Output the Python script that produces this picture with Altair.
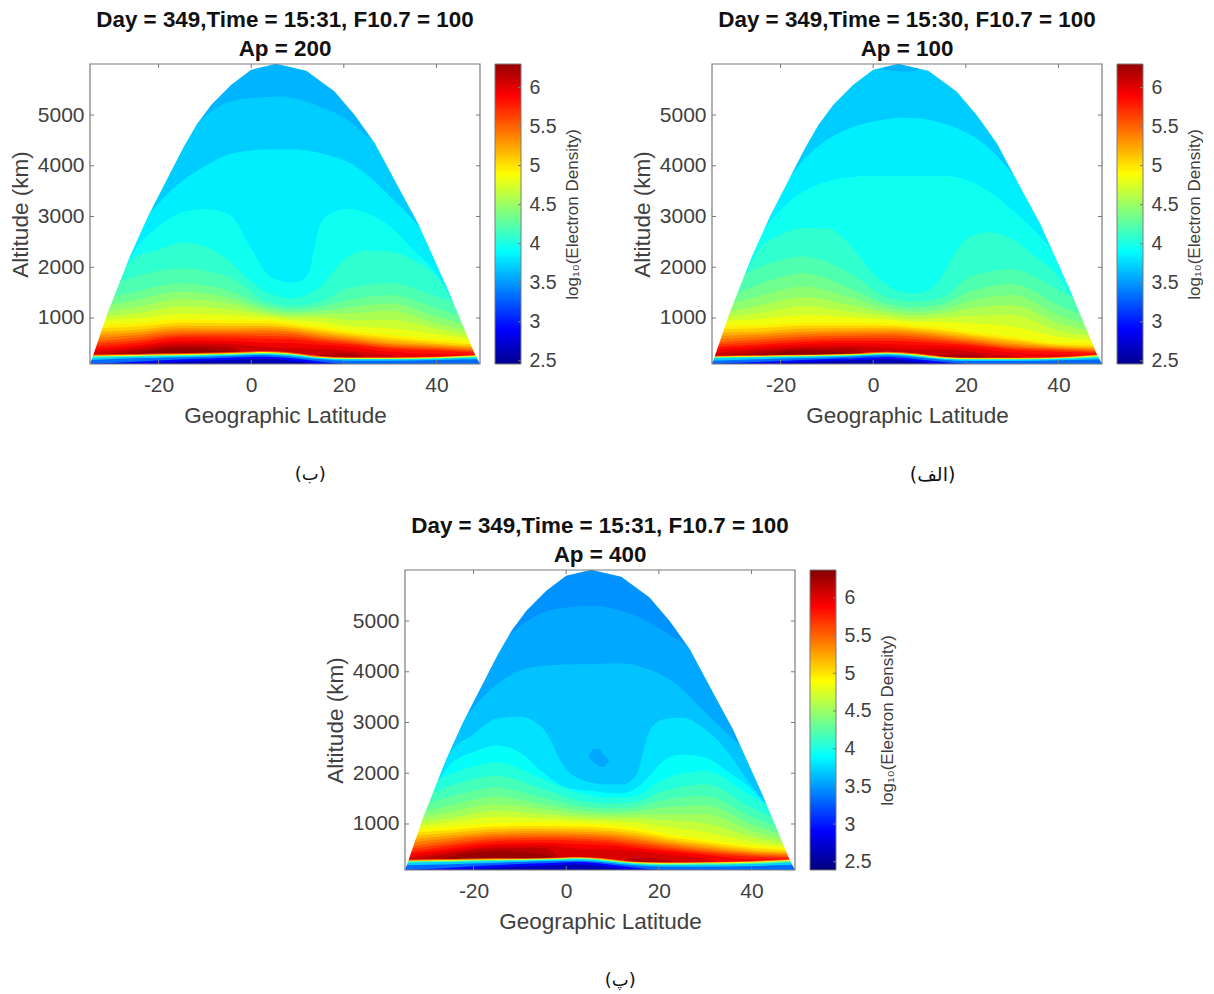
import altair as alt
import numpy as np
import pandas as pd

alt.data_transformers.disable_max_rows()

FONT = "Liberation Sans"
TXT = "#404040"
EDGE = "#7a7a7a"
W, H = 390, 300
ALT_MIN, ALT_MAX, LAT_MIN, LAT_MAX = 93, 6006, -34.8, 49.4
XTICKS = [-20, 0, 20, 40]
YTICKS = [1000, 2000, 3000, 4000, 5000]
CB_TICKS = [2.5, 3, 3.5, 4, 4.5, 5, 5.5, 6]
JET = ["#00007f", "#0000ff", "#007fff", "#00ffff", "#7fff7f", "#ffff00", "#ff7f00", "#ff0000", "#7f0000"]

ENV_LAT = [-34.8, -34.1, -31, -26.2, -22.3, -14.7, -11.8, -8.6, -4.3, 0, 5.4, 11.9, 18, 22.3, 26.7, 31.7, 36, 42.5, 48.2, 49.4]
ENV_ALT = [93, 270, 1100, 2210, 3000, 4350, 4808, 5202, 5596, 5892, 6010, 5872, 5465, 5004, 4446, 3590, 2868, 1553, 304, 93]

LAT_FINE = [-34.8, -30, -25, -20, -15, -10, -5, 0, 3, 6, 9, 12, 15, 18, 21, 25, 30, 35, 40, 45, 49.4]
LAT_LOW = [-34.8, -25, -15, -5, 3, 9, 15, 21, 30, 40, 49.4]

# Panel (b): Ap = 200
A_BASE = 3.59
A_FINE = [
    (3.69, [1000, 1900, 3000, 3900, 4450, 4960, 5255, 5330, 5355, 5366, 5330, 5260, 5156, 5050, 4886, 4577, 4300, 3300, 2400, 1400, 400]),
    (3.82, [800, 1900, 2700, 3262, 3690, 3990, 4216, 4301, 4320, 4327, 4327, 4300, 4248, 4170, 4070, 3821, 3394, 2933, 2400, 1400, 400]),
    (3.94, [700, 1500, 2350, 2802, 3078, 3150, 3052, 2375, 1914, 1737, 1697, 1816, 2868, 3098, 3150, 3065, 2802, 2342, 1881, 1100, 400]),
    (4.07, [500, 1500, 2210, 2342, 2486, 2407, 2144, 1717, 1520, 1421, 1388, 1454, 1618, 1947, 2210, 2329, 2309, 2144, 1816, 1092, 300]),
]
A_LOW = [
    (4.18, [1487, 1816, 1980, 1816, 1342, 1237, 1323, 1586, 1684, 1421, 1092]),
    (4.30, [1290, 1520, 1684, 1553, 1257, 1171, 1224, 1356, 1454, 1191, 895]),
    (4.43, [1191, 1356, 1520, 1408, 1191, 1112, 1145, 1211, 1290, 1027, 797]),
    (4.55, [1092, 1211, 1369, 1290, 1125, 1060, 1079, 1092, 1145, 895, 698]),
    (4.68, [1014, 1092, 1224, 1171, 1073, 1014, 1014, 961, 961, 790, 619]),
    (4.80, [948, 994, 1079, 1060, 1014, 961, 928, 843, 797, 685, 566]),
    (4.93, [862, 895, 974, 954, 948, 895, 829, 751, 665, 580, 514]),
    (5.05, [797, 829, 908, 895, 895, 849, 777, 698, 612, 527, 468]),
    (5.18, [731, 764, 849, 843, 843, 803, 731, 658, 566, 488, 435]),
    (5.30, [665, 711, 797, 790, 797, 764, 685, 619, 514, 461, 409]),
    (5.43, [599, 658, 751, 744, 751, 724, 645, 580, 481, 435, 382]),
    (5.55, [534, 606, 698, 698, 698, 678, 606, 547, 448, 409, 356]),
    (5.68, [488, 553, 658, 658, 645, 632, 566, 514, 422, 382, 336]),
    (5.80, [435, 507, 619, 612, 593, 580, 520, 481, 395, 356, 317]),
    (5.93, [382, 455, 553, 547, 514, 501, 468, 435, 336, 290, 277]),
    (6.05, [317, 409, 501, 488, 435, 402, 395, 356, 271, 93, 93]),
    (6.18, [251, 363, 455, 435, 93, 93, 271, 317, 93, 93, 93]),
    (6.28, [93, 303, 409, 343, 93, 93, 93, 93, 93, 93, 93]),
]
A_BOTTOM = [
    (5.55, [277, 290, 303, 323, 349, 317, 251, 225, 225, 238, 277]),
    (4.90, [257, 271, 284, 303, 330, 297, 231, 211, 211, 225, 264]),
    (4.20, [244, 257, 271, 290, 310, 284, 218, 198, 198, 211, 244]),
    (3.70, [218, 238, 251, 271, 290, 264, 205, 185, 185, 198, 225]),
    (3.30, [172, 205, 225, 251, 271, 238, 185, 159, 159, 172, 185]),
    (2.90, [93, 139, 185, 218, 238, 205, 139, 93, 93, 93, 93]),
    (2.60, [93, 93, 139, 172, 198, 152, 93, 93, 93, 93, 93]),
]

# Panel (alef): Ap = 100
B_BASE = 3.59
B_FINE = [
    (3.69, [1000, 2000, 3000, 4000, 4700, 5400, 5900, 6100, 5873, 5860, 5860, 6100, 5800, 5500, 5400, 4800, 4000, 3200, 2300, 1200, 300]),
    (3.82, [829, 1816, 2802, 3492, 4117, 4512, 4742, 4873, 4919, 4945, 4939, 4906, 4840, 4742, 4610, 4347, 3854, 3328, 2539, 1618, 501]),
    (3.94, [566, 1618, 2539, 3131, 3492, 3690, 3775, 3801, 3801, 3801, 3801, 3801, 3801, 3775, 3690, 3492, 3131, 2703, 2144, 1158, 303]),
    (4.07, [501, 1356, 2309, 2638, 2769, 2769, 2440, 1881, 1651, 1520, 1487, 1553, 1849, 2342, 2605, 2690, 2552, 2210, 1816, 1027, 172]),
]
B_LOW = [
    (4.19, [1487, 1980, 2210, 1881, 1408, 1323, 1408, 1816, 1960, 1553, 1092]),
    (4.32, [1257, 1651, 1881, 1586, 1277, 1211, 1277, 1520, 1671, 1257, 895]),
    (4.44, [1158, 1421, 1618, 1408, 1191, 1125, 1178, 1342, 1454, 1060, 797]),
    (4.57, [1060, 1237, 1408, 1257, 1112, 1053, 1092, 1191, 1257, 895, 698]),
    (4.69, [994, 1092, 1237, 1125, 1040, 987, 1014, 1040, 1060, 751, 619]),
    (4.82, [928, 974, 1060, 1014, 974, 928, 928, 895, 829, 632, 566]),
    (4.94, [843, 862, 908, 908, 895, 856, 810, 731, 632, 514, 501]),
    (5.07, [777, 797, 849, 849, 843, 803, 757, 678, 580, 474, 455]),
    (5.19, [711, 731, 790, 797, 797, 764, 711, 639, 540, 448, 422]),
    (5.32, [645, 678, 731, 744, 751, 724, 665, 599, 494, 422, 395]),
    (5.44, [580, 626, 678, 698, 704, 678, 626, 560, 461, 402, 369]),
    (5.57, [514, 573, 632, 652, 658, 632, 586, 527, 428, 382, 343]),
    (5.69, [468, 520, 580, 606, 606, 586, 547, 494, 402, 363, 323]),
    (5.82, [422, 474, 534, 553, 553, 534, 501, 461, 376, 336, 303]),
    (5.94, [369, 428, 481, 501, 488, 468, 448, 415, 317, 277, 264]),
    (6.07, [303, 382, 435, 448, 415, 382, 382, 336, 251, 93, 93]),
    (6.19, [238, 330, 395, 395, 93, 93, 271, 290, 93, 93, 93]),
    (6.28, [93, 271, 356, 317, 93, 93, 93, 93, 93, 93, 93]),
]
B_BOTTOM = [
    (5.50, [251, 264, 277, 297, 336, 303, 238, 218, 218, 231, 284]),
    (4.90, [238, 251, 264, 284, 317, 284, 225, 205, 205, 218, 271]),
    (4.20, [225, 238, 251, 271, 303, 271, 211, 192, 192, 205, 251]),
    (3.70, [205, 225, 238, 257, 284, 251, 198, 178, 178, 192, 225]),
    (3.30, [159, 185, 211, 238, 264, 231, 178, 152, 152, 165, 185]),
    (2.90, [93, 132, 172, 205, 231, 192, 132, 93, 93, 93, 93]),
    (2.60, [93, 93, 132, 165, 192, 146, 93, 93, 93, 93, 93]),
]

# Panel (pe): Ap = 400
C_BASE = 3.46
C_FINE = [
    (3.55, [1000, 1900, 3000, 3900, 4450, 4900, 5169, 5268, 5287, 5300, 5268, 5202, 5103, 4972, 4807, 4577, 4300, 3300, 2400, 1400, 400]),
    (3.65, [800, 1900, 2700, 3295, 3755, 4018, 4117, 4143, 4150, 4150, 4163, 4163, 4130, 4038, 3920, 3657, 3196, 2769, 2300, 1400, 400]),
    (3.77, [700, 1500, 2420, 2769, 3078, 3118, 2881, 2079, 1881, 1803, 1776, 1776, 1947, 2835, 3065, 3098, 2868, 2407, 1750, 1158, 300]),
    (3.90, [829, 1487, 2177, 2421, 2552, 2407, 2013, 1717, 1671, 1645, 1618, 1605, 1697, 1947, 2243, 2368, 2309, 2026, 1684, 1100, 300]),
]
C_BLOB_LEVEL = 3.55
C_BLOB_LAT = [4.8, 5.9, 7.0, 8.0, 9.3]
C_BLOB_TOP = [2342, 2473, 2486, 2375, 2243]
C_BLOB_BOT = [2342, 2210, 2144, 2125, 2243]
C_LOW = [
    (4.02, [1553, 1980, 2210, 1881, 1605, 1520, 1553, 1881, 2046, 1553, 1092]),
    (4.15, [1356, 1750, 1947, 1684, 1454, 1401, 1434, 1651, 1783, 1323, 928]),
    (4.27, [1257, 1540, 1717, 1520, 1356, 1309, 1342, 1474, 1553, 1145, 816]),
    (4.40, [1158, 1369, 1540, 1388, 1270, 1237, 1257, 1323, 1369, 994, 724]),
    (4.52, [1079, 1237, 1388, 1290, 1198, 1171, 1184, 1191, 1191, 862, 652]),
    (4.65, [1014, 1125, 1257, 1191, 1132, 1112, 1112, 1079, 1014, 751, 599]),
    (4.77, [948, 1040, 1145, 1112, 1073, 1053, 1027, 948, 843, 658, 553]),
    (4.90, [882, 948, 1014, 1027, 1014, 987, 928, 816, 698, 580, 514]),
    (5.02, [816, 882, 948, 961, 948, 921, 862, 757, 645, 534, 481]),
    (5.15, [751, 823, 895, 908, 895, 869, 810, 711, 599, 494, 448]),
    (5.27, [685, 770, 849, 862, 849, 823, 757, 665, 560, 461, 422]),
    (5.40, [619, 718, 803, 816, 803, 777, 711, 626, 520, 435, 395]),
    (5.52, [553, 665, 757, 770, 757, 731, 665, 586, 488, 409, 369]),
    (5.65, [501, 612, 711, 731, 711, 685, 619, 547, 455, 382, 349]),
    (5.77, [448, 566, 665, 685, 665, 639, 573, 507, 422, 356, 330]),
    (5.90, [402, 514, 612, 632, 599, 580, 527, 468, 389, 303, 303]),
    (6.02, [336, 468, 566, 580, 514, 501, 468, 402, 317, 93, 93]),
    (6.15, [271, 422, 520, 527, 93, 93, 336, 303, 93, 93, 93]),
    (6.27, [93, 356, 461, 402, 93, 93, 93, 93, 93, 93, 93]),
]
C_BOTTOM = [
    (5.50, [297, 310, 323, 330, 349, 317, 257, 244, 251, 271, 317]),
    (4.90, [277, 290, 303, 317, 336, 297, 244, 231, 238, 257, 297]),
    (4.20, [264, 277, 290, 303, 323, 284, 231, 218, 225, 238, 277]),
    (3.70, [238, 251, 271, 284, 303, 264, 211, 192, 198, 211, 251]),
    (3.30, [185, 205, 238, 264, 277, 238, 185, 159, 159, 172, 198]),
    (2.90, [93, 139, 192, 225, 251, 205, 139, 93, 93, 93, 93]),
    (2.60, [93, 93, 139, 178, 205, 152, 93, 93, 93, 93, 93]),
]

X_SCALE = alt.Scale(domain=[LAT_MIN, LAT_MAX], nice=False, zero=False)
Y_SCALE = alt.Scale(domain=[ALT_MIN, ALT_MAX], nice=False, zero=False)
NUM_LABEL = "'' + datum.value"

X_AXIS = alt.Axis(values=XTICKS, ticks=False, domain=False, grid=False, labelExpr=NUM_LABEL,
                  labelFont=FONT, labelFontSize=21, labelColor=TXT, labelPadding=10,
                  title="Geographic Latitude", titleFont=FONT, titleFontSize=22.5,
                  titleFontWeight="normal", titleColor=TXT, titlePadding=9)
Y_AXIS = alt.Axis(values=YTICKS, ticks=False, domain=False, grid=False, labelExpr=NUM_LABEL,
                  labelFont=FONT, labelFontSize=21, labelColor=TXT, labelPadding=6,
                  title="Altitude (km)", titleFont=FONT, titleFontSize=22.5,
                  titleFontWeight="normal", titleColor=TXT, titlePadding=5)
CB_AXIS = alt.Axis(orient="right", values=CB_TICKS, ticks=False, domain=False, grid=False, labelExpr=NUM_LABEL,
                   labelFont=FONT, labelFontSize=19.5, labelColor=TXT, labelPadding=8,
                   title="log₁₀(Electron Density)", titleFont=FONT, titleFontSize=17, titleAngle=270,
                   titleFontWeight="normal", titleColor=TXT, titlePadding=25)
POS_X = alt.X("lat:Q", scale=X_SCALE, axis=X_AXIS)
POS_Y = alt.Y("alt:Q", scale=Y_SCALE, axis=Y_AXIS)


def area_layer(lat, top, low, level, color_scale):
    df = pd.DataFrame({"lat": lat, "alt": top, "low": low, "level": level})
    return alt.Chart(df).mark_area(interpolate="monotone", clip=True).encode(
        x=POS_X, y=POS_Y, y2=alt.Y2("low:Q"),
        color=alt.Color("level:Q", scale=color_scale, legend=None),
    )


def panel(title, domain, base, fine, low, bottom, blob=None):
    cs = alt.Scale(domain=domain, range=JET, interpolate="rgb")
    ends = [LAT_MIN, LAT_MAX]
    layers = [area_layer(ends, [6100, 6100], [ALT_MIN, ALT_MIN], base, cs)]
    for i, (lev, vals) in enumerate(fine):
        layers.append(area_layer(LAT_FINE, vals, [ALT_MIN] * len(vals), lev, cs))
        if blob and i == 1:
            layers.append(area_layer(blob[0], blob[1], blob[2], blob[3], cs))
    for lev, vals in low + bottom:
        layers.append(area_layer(LAT_LOW, vals, [ALT_MIN] * len(vals), lev, cs))
    # white outside the sounding envelope
    mask = pd.DataFrame({"lat": ENV_LAT, "alt": ENV_ALT, "low": [6100] * len(ENV_LAT)})
    layers.append(alt.Chart(mask).mark_area(clip=True, color="white").encode(
        x=POS_X, y=POS_Y, y2=alt.Y2("low:Q"),
    ))
    xt = pd.DataFrame({"lat": XTICKS})
    yt = pd.DataFrame({"alt": YTICKS})
    tick = dict(color=EDGE, strokeWidth=1)
    layers += [
        alt.Chart(xt).mark_rule(**tick).encode(x=POS_X, y=alt.value(0), y2=alt.value(4)),
        alt.Chart(xt).mark_rule(**tick).encode(x=POS_X, y=alt.value(H - 4), y2=alt.value(H)),
        alt.Chart(yt).mark_rule(**tick).encode(y=POS_Y, x=alt.value(0), x2=alt.value(4)),
        alt.Chart(yt).mark_rule(**tick).encode(y=POS_Y, x=alt.value(W - 4), x2=alt.value(W)),
        alt.Chart(xt.head(1)).mark_rect(filled=False, stroke=EDGE, strokeWidth=1.2).encode(
            x=alt.value(0), x2=alt.value(W), y=alt.value(0), y2=alt.value(H)),
    ]
    return alt.layer(*layers).properties(
        width=W, height=H,
        title=alt.TitleParams(text=title, font=FONT, fontSize=22.4, fontWeight="bold", color="#111111",
                              anchor="middle", lineHeight=29, offset=3),
    )


def colorbar(domain):
    lo, hi = domain
    steps = np.linspace(lo, hi, 129)[:-1]
    df = pd.DataFrame({"low": steps, "top": hi})
    cs = alt.Scale(domain=domain, range=JET, interpolate="rgb")
    ys = alt.Scale(domain=[lo, hi], nice=False, zero=False)
    pos = alt.Y("low:Q", scale=ys, axis=CB_AXIS)
    bar = alt.Chart(df).mark_rect(clip=True).encode(
        x=alt.value(0), x2=alt.value(26), y=pos, y2=alt.Y2("top:Q"),
        color=alt.Color("low:Q", scale=cs, legend=None),
    )
    frame = alt.Chart(df.head(1)).mark_rect(filled=False, stroke=EDGE, strokeWidth=1).encode(
        x=alt.value(0), x2=alt.value(26), y=alt.value(0), y2=alt.value(H))
    ticks = alt.Chart(pd.DataFrame({"low": CB_TICKS})).mark_rule(color=EDGE, strokeWidth=1).encode(
        y=pos, x=alt.value(23), x2=alt.value(26))
    return alt.layer(bar, ticks, frame).properties(width=26, height=H)


def group(chart, cb, caption, dx, size):
    return alt.hconcat(chart, cb, spacing=12).properties(title=alt.TitleParams(
        text=caption, orient="bottom", anchor="start", dx=dx, offset=39,
        font="DejaVu Sans", fontSize=size, fontWeight="normal", color="#111111"))


DOM_AB = [2.46, 6.30]
DOM_C = [2.39, 6.37]

left = group(panel(["Day = 349,Time = 15:31, F10.7 = 100", "Ap = 200"], DOM_AB, A_BASE, A_FINE, A_LOW, A_BOTTOM),
             colorbar(DOM_AB), "(ب)", 286, 18)
right = group(panel(["Day = 349,Time = 15:30, F10.7 = 100", "Ap = 100"], DOM_AB, B_BASE, B_FINE, B_LOW, B_BOTTOM),
              colorbar(DOM_AB), "(الف)", 279, 19)
lower = group(panel(["Day = 349,Time = 15:31, F10.7 = 100", "Ap = 400"], DOM_C, C_BASE, C_FINE, C_LOW, C_BOTTOM,
                    blob=(C_BLOB_LAT, C_BLOB_TOP, C_BLOB_BOT, C_BLOB_LEVEL)),
              colorbar(DOM_C), "(پ)", 281, 18)

spacer = alt.Chart(pd.DataFrame({"a": [0]})).mark_point(opacity=0).encode(x=alt.value(0)).properties(width=207, height=10)

top_row = alt.hconcat(left, right, spacing=49)
bottom_row = alt.hconcat(spacer, lower, spacing=25)

chart = alt.vconcat(top_row, bottom_row, spacing=29).properties(
    padding={"left": 0, "top": 0, "right": 0, "bottom": 0}
).configure_view(stroke="transparent")

chart.save("out.html", embed_options={"renderer": "svg", "actions": False})
